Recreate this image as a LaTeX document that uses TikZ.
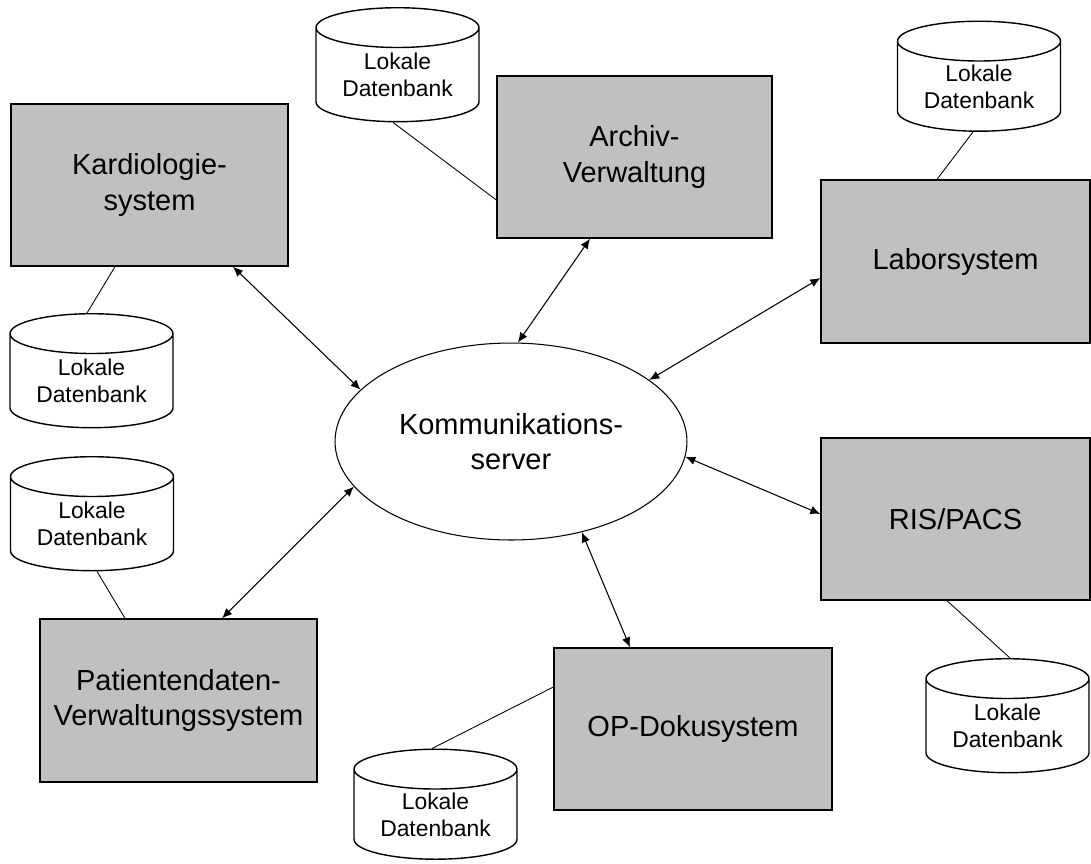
\documentclass[tikz,border=0pt]{standalone}
\usepackage{fontspec}
\setmainfont{Liberation Sans}
\usetikzlibrary{shapes.geometric,arrows.meta}

\definecolor{boxgray}{HTML}{C0C0C0}

\tikzset{
  sysbox/.style={draw, line width=0.8pt, fill=boxgray, align=center,
    font=\fontsize{16.5}{20}\selectfont, inner sep=0pt},
  dbcyl/.style={cylinder, shape border rotate=90, aspect=0.36, draw,
    line width=0.8pt, fill=white, align=center,
    font=\fontsize{13}{15.3}\selectfont, inner sep=0pt,
    minimum width=3.26cm, minimum height=2.28cm},
  link/.style={line width=0.5pt},
  flow/.style={line width=0.6pt, {Latex[length=2mm,width=1.7mm]}-{Latex[length=2mm,width=1.7mm]}},
}

\begin{document}
\begin{tikzpicture}[x=0.02cm, y=-0.02cm]
        \useasboundingbox (0,0) rectangle (1091,863);

        % Kommunikationsserver in the middle
        \node[ellipse, draw, line width=0.6pt, minimum width=7.04cm, minimum height=3.94cm,
              inner sep=0pt, align=center, font=\fontsize{16.5}{20}\selectfont]
              (server) at (511,441.5) {Kommunikations-\\server};

        % Subsystems
        \node[sysbox, minimum width=5.54cm, minimum height=3.24cm] (kardio) at (149.5,185) {Kardiologie-\\system};
        \node[sysbox, minimum width=5.5cm, minimum height=3.24cm] (archiv) at (634.5,157) {Archiv-\\Verwaltung};
        \node[sysbox, minimum width=5.38cm, minimum height=3.26cm] (labor) at (955.5,261.5) {Laborsystem};
        \node[sysbox, minimum width=5.38cm, minimum height=3.24cm] (ris) at (955.5,519) {RIS/PACS};
        \node[sysbox, minimum width=5.56cm, minimum height=3.24cm] (op) at (693,729) {OP-Dokusystem};
        \node[sysbox, minimum width=5.54cm, minimum height=3.26cm] (patient) at (178.5,700.5) {Patientendaten-\\Verwaltungssystem};

        % Local databases
        \node[dbcyl] (dbkardio) at (91.5,381) {Lokale\\Datenbank};
        \node[dbcyl] (dbpatient) at (92,524) {Lokale\\Datenbank};
        \node[dbcyl] (dbarchiv) at (397.5,75) {Lokale\\Datenbank};
        \node[dbcyl, minimum height=2.2cm] (dblabor) at (979,86.5) {Lokale\\Datenbank};
        \node[dbcyl] (dbris) at (1007.5,726) {Lokale\\Datenbank};
        \node[dbcyl, minimum height=2.2cm] (dbop) at (435.5,814.5) {Lokale\\Datenbank};

        % Database links
        \draw[link] ([xshift=-0.09cm]dbkardio.north) -- ([xshift=-0.69cm]kardio.south);
        \draw[link] ([xshift=0.1cm]dbpatient.south) -- ([xshift=-1.07cm]patient.north);
        \draw[link] ([xshift=-0.09cm]dbarchiv.south) -- ([yshift=-0.86cm]archiv.west);
        \draw[link] ([xshift=-0.12cm]dblabor.south) -- ([xshift=-0.37cm]labor.north);
        \draw[link] ([xshift=0.05cm]dbris.north) -- ([xshift=-0.17cm]ris.south);
        \draw[link] ([xshift=-0.07cm]dbop.north) -- ([yshift=0.84cm]op.west);

        % Links to the server
        \draw[flow] ([xshift=1.67cm]kardio.south) -- (server.161);
        \draw[flow] ([xshift=-0.89cm]archiv.south) -- (server.86);
        \draw[flow] ([yshift=-0.33cm]labor.west) -- (server.24);
        \draw[flow] ([yshift=0.1cm]ris.west) -- (server.-5);
        \draw[flow] ([xshift=-1.26cm]op.north) -- (server.-52);
        \draw[flow] ([xshift=0.87cm]patient.north) -- (server.196);
    \end{tikzpicture}
\end{document}
